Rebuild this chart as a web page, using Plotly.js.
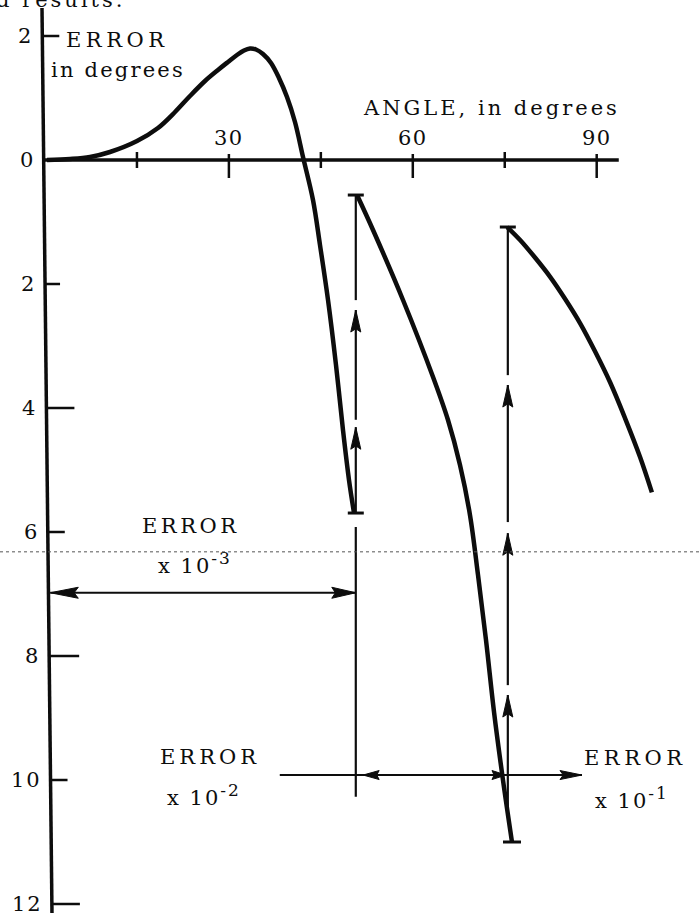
<!DOCTYPE html>
<html><head><meta charset="utf-8">
<script src="https://cdn.plot.ly/plotly-3.0.1.min.js"></script>
<style>html,body{margin:0;padding:0;background:#fff}#chart{width:700px;height:913px}</style>
</head><body><div id="chart"></div>
<script>
// ---------------- data (angle in degrees, error in scaled units) ----------------
const angleA = [0.33, 4.08, 7.34, 10.60, 15.01, 18.43, 21.21, 23.65, 26.10, 28.22, 29.85, 31.32, 32.46, 33.44, 34.42, 35.56, 36.87, 38.17, 39.48, 40.78, 42.09, 43.72, 44.86, 46.17, 47.47, 48.61, 49.59, 50.41];
const errorA = [0, 0.016, 0.048, 0.129, 0.306, 0.516, 0.774, 1.032, 1.274, 1.452, 1.581, 1.694, 1.766, 1.798, 1.782, 1.710, 1.565, 1.323, 1.016, 0.613, 0.048, -0.645, -1.371, -2.258, -3.306, -4.355, -5.161, -5.694];
const angleB = [50.90, 53.51, 58.40, 63.30, 65.74, 67.70, 69.33, 70.64, 71.94, 73.25, 74.71, 76.18];
const errorB = [-0.565, -1.129, -2.258, -3.500, -4.194, -4.919, -5.726, -6.694, -7.742, -8.903, -10.0, -11.0];
const angleC = [75.4, 77.5, 79.9, 82.4, 84.8, 87.3, 89.7, 92.2, 94.6, 97.1, 99.0];
const errorC = [-1.081, -1.290, -1.569, -1.884, -2.234, -2.634, -3.081, -3.589, -4.158, -4.798, -5.360];

const xTickValues = [15, 30, 45, 60, 75, 90];
const xTickLabels = ['', '30', '', '60', '', '90'];
const yTickValues = [2, 0, -2, -4, -6, -8, -10, -12];
const yTickLabels = ['2', '0', '2', '4', '6', '8', '10', '12'];

// scale-change markers (angles where the error scale switches)
const scaleChangeAngles = [50.7, 75.5];
// vertical marker pieces: [from, to] in error units; arrows point to "to"
const midPlain  = [[-0.56, -2.26], [-5.92, -10.27]];
const midArrows = [[-4.19, -2.42], [-5.69, -4.31]];
const rightPlain  = [[-1.08, -3.47]];
const rightArrows = [[-5.84, -3.63], [-8.47, -6.02], [-10.44, -8.63]];
// scale bands
const bandError = [-6.98, -9.92, -9.92];
const scaleExponents = ['-3', '-2', '-1'];

// ---------------- geometry ----------------
const W = 700, H = 913, X0 = 45, KX = 6.13, Y0 = 160, KY = 62;
const xr = [-X0 / KX, (W - X0) / KX];
const yr = [-(H - Y0) / KY, Y0 / KY];
const INK = '#0d0d0d';
const FONT = 'DejaVu Serif';
const FS = 21;
const traces = [], annotations = [], shapes = [];

function line(xs, ys, w, shape) {
  traces.push({type: 'scatter', mode: 'lines', x: xs, y: ys, hoverinfo: 'skip',
    line: {color: INK, width: w, shape: shape || 'linear', smoothing: 1}});
}
function head(tx, ty, ux, uy, len, hw) {
  const bx = -ux * len, by = -uy * len, px = -uy, py = ux;
  const pts = [[0, 0], [bx + px * hw, by + py * hw], [bx * 0.85, by * 0.85], [bx - px * hw, by - py * hw], [0, 0]];
  traces.push({type: 'scatter', mode: 'lines', fill: 'toself', fillcolor: INK, hoverinfo: 'skip',
    line: {color: INK, width: 1},
    x: pts.map(p => tx + p[0] / KX), y: pts.map(p => ty - p[1] / KY)});
}
function cap(x, y, halfPx, w) { line([x - halfPx / KX, x + halfPx / KX], [y, y], w || 3); }
function txt(x, y, t, size, sp, xanchor, refs) {
  annotations.push(Object.assign({x: x, y: y, xref: 'x', yref: 'y', showarrow: false,
    text: '<span style="letter-spacing:' + sp + 'px">' + t + '</span>',
    xanchor: xanchor || 'center', yanchor: 'middle',
    font: {family: FONT, size: size, color: INK}}, refs || {}));
}
function scaleText(exp) {
  return 'x 10<sup><span style="font-size:17px">' + exp + '</span></sup>';
}

// slanted vertical axis (scan)
const axisTop = [-0.49, 2.45], axisBottom = [1.14, yr[0]];
function axisX(v) { return axisTop[0] + (v - axisTop[1]) * (axisBottom[0] - axisTop[0]) / (axisBottom[1] - axisTop[1]); }
line([axisTop[0], axisBottom[0]], [axisTop[1], axisBottom[1]], 3.5);
// horizontal axis
line([axisX(0), 93.6], [0, 0], 3.5);

// x ticks
xTickValues.forEach((v, i) => {
  const major = xTickLabels[i] !== '';
  line([v, v], [major ? 6 / KY : 8 / KY, major ? -18 / KY : -8 / KY], 2.5);
  if (major) txt(v, 22 / KY, xTickLabels[i], FS, 1.5);
});
// y ticks
const yTickLen = [17, 0, 15, 28, 17, 30, 17, 28];
yTickValues.forEach((v, i) => {
  const ax = axisX(v);
  if (yTickLen[i] > 0) line([ax, ax + yTickLen[i] / KX], [v, v], 2.5);
  txt(ax - 7 / KX, v, yTickLabels[i], FS, 2, 'right');
});

// curves
line(angleA, errorA, 4.5, 'spline');
line(angleB, errorB, 4.5, 'spline');
line(angleC, errorC, 4.5, 'spline');

// vertical scale-change markers
const [mx, rx] = scaleChangeAngles;
midPlain.forEach(s => line([mx, mx], s, 2.2));
midArrows.forEach(s => { line([mx, mx], s, 2.2); head(mx, s[1], 0, -1, 22, 5); });
rightPlain.forEach(s => line([rx, rx], s, 2.2));
rightArrows.forEach(s => { line([rx, rx], s, 2.2); head(rx, s[1], 0, -1, 22, 5); });
cap(mx, errorA[errorA.length - 1], 8);
cap(mx, errorB[0], 8);
cap(rx, errorC[0], 8);
cap(angleB[angleB.length - 1], errorB[errorB.length - 1], 9);

// horizontal scale bands
line([axisX(bandError[0]) + 0.3, mx], [bandError[0], bandError[0]], 2);
head(axisX(bandError[0]) + 0.3, bandError[0], -1, 0, 28, 5.5);
head(mx, bandError[0], 1, 0, 24, 5.5);
line([38.3, rx], [bandError[1], bandError[1]], 2);
head(mx + 1.2, bandError[1], -1, 0, 16, 4.5);
head(rx - 0.3, bandError[1], 1, 0, 14, 4.5);
line([rx, 87.6], [bandError[2], bandError[2]], 2);
head(87.6, bandError[2], 1, 0, 22, 4.5);

// scan artefact dotted line
shapes.push({type: 'line', xref: 'x', yref: 'y', x0: xr[0], x1: xr[1], y0: -6.32, y1: -6.32,
  line: {color: '#555', width: 1, dash: 'dot'}});

// texts
txt(11.7, 1.94, 'ERROR', FS, 4.5);
txt(11.9, 1.45, 'in degrees', FS, 2.2);
txt(72.9, 0.84, 'ANGLE, in degrees', FS, 3);
txt(23.7, -5.9, 'ERROR', FS, 3.5);
txt(24.5, -6.5, scaleText(scaleExponents[0]), FS, 2);
txt(26.9, -9.63, 'ERROR', FS, 4);
txt(25.9, -10.24, scaleText(scaleExponents[1]), FS, 2);
txt(96.2, -9.65, 'ERROR', FS, 4.5);
txt(95.8, -10.29, scaleText(scaleExponents[2]), FS, 2);
txt(2.6, 1.0, 'd results.', FS, 3, 'center', {yref: 'paper', yanchor: 'middle', y: 1.0});

const layout = {
  width: W, height: H, margin: {l: 0, r: 0, t: 0, b: 0, pad: 0},
  paper_bgcolor: '#fff', plot_bgcolor: '#fff', showlegend: false,
  xaxis: {range: xr, visible: false, fixedrange: true},
  yaxis: {range: yr, visible: false, fixedrange: true},
  annotations: annotations, shapes: shapes
};
Plotly.newPlot('chart', traces, layout, {staticPlot: true, displayModeBar: false});
</script></body></html>
